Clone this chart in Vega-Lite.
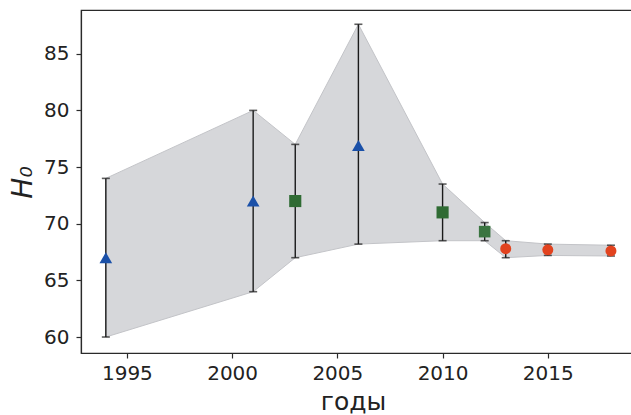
{
  "$schema": "https://vega.github.io/schema/vega-lite/v6.json",
  "width": 551,
  "height": 343,
  "autosize": {"type": "none"},
  "padding": {"left": 81, "top": 10, "right": 0, "bottom": 62},
  "background": "white",
  "config": {
    "view": {"stroke": "#2a2a2a", "strokeWidth": 1.2},
    "axis": {
      "grid": false,
      "domainColor": "#2a2a2a",
      "domainWidth": 1.2,
      "tickColor": "#2a2a2a",
      "tickSize": 5,
      "tickWidth": 1.2,
      "labelFont": "DejaVu Sans",
      "labelFontSize": 20,
      "labelColor": "#222222",
      "titleFont": "DejaVu Sans",
      "titleColor": "#222222",
      "titleFontWeight": "normal"
    }
  },
  "data": {
    "values": [
      {"year": 1994, "h": 67.0, "lo": 60.0, "hi": 74.0, "series": "A"},
      {"year": 2001, "h": 72.0, "lo": 64.0, "hi": 80.0, "series": "A"},
      {"year": 2003, "h": 72.0, "lo": 67.0, "hi": 77.0, "series": "B"},
      {"year": 2006, "h": 76.9, "lo": 68.2, "hi": 87.6, "series": "A"},
      {"year": 2010, "h": 71.0, "lo": 68.5, "hi": 73.5, "series": "B"},
      {"year": 2012, "h": 69.3, "lo": 68.5, "hi": 70.1, "series": "C"},
      {"year": 2013, "h": 67.8, "lo": 67.0, "hi": 68.5, "series": "D"},
      {"year": 2015, "h": 67.7, "lo": 67.2, "hi": 68.2, "series": "D"},
      {"year": 2018, "h": 67.6, "lo": 67.15, "hi": 68.1, "series": "D"}
    ]
  },
  "layer": [
    {
      "mark": {"type": "area", "fill": "#d6d7da", "stroke": "#c3c4c8", "strokeWidth": 1},
      "encoding": {
        "x": {
          "field": "year", "type": "quantitative",
          "scale": {"domain": [1992.82, 2019.0], "nice": false, "zero": false},
          "axis": {"values": [1995, 2000, 2005, 2010, 2015], "format": "d", "labelPadding": 5,
                   "title": "годы", "titleFontSize": 25, "titleX": 272, "titleY": 56, "titleBaseline": "alphabetic"}
        },
        "y": {
          "field": "hi", "type": "quantitative",
          "scale": {"domain": [58.59, 88.86], "nice": false, "zero": false},
          "axis": {"values": [60, 65, 70, 75, 80, 85], "labelPadding": 7,
                   "title": "H₀", "titleFontSize": 28, "titleFontStyle": "italic",
                   "titleX": -58, "titleY": 172, "titleAngle": -90, "titleAlign": "center", "titleBaseline": "middle"}
        },
        "y2": {"field": "lo"}
      }
    },
    {
      "mark": {"type": "rule", "color": "#1a1a1a", "strokeWidth": 1.4},
      "encoding": {
        "x": {"field": "year", "type": "quantitative"},
        "y": {"field": "lo", "type": "quantitative"},
        "y2": {"field": "hi"}
      }
    },
    {
      "mark": {"type": "tick", "orient": "horizontal", "color": "#1a1a1a", "size": 8, "thickness": 1.6},
      "encoding": {
        "x": {"field": "year", "type": "quantitative"},
        "y": {"field": "lo", "type": "quantitative"}
      }
    },
    {
      "mark": {"type": "tick", "orient": "horizontal", "color": "#1a1a1a", "size": 8, "thickness": 1.6},
      "encoding": {
        "x": {"field": "year", "type": "quantitative"},
        "y": {"field": "hi", "type": "quantitative"}
      }
    },
    {
      "mark": {"type": "point", "filled": true, "opacity": 1},
      "encoding": {
        "x": {"field": "year", "type": "quantitative"},
        "y": {"field": "h", "type": "quantitative"},
        "shape": {"field": "series", "type": "nominal", "legend": null,
                  "scale": {"domain": ["A", "B", "C", "D"], "range": ["triangle-up", "square", "square", "circle"]}},
        "color": {"field": "series", "type": "nominal", "legend": null,
                  "scale": {"domain": ["A", "B", "C", "D"], "range": ["#1a50a8", "#2f6b33", "#3a7540", "#e2431f"]}},
        "size": {"field": "series", "type": "nominal", "legend": null,
                 "scale": {"domain": ["A", "B", "C", "D"], "range": [160, 121, 45, 38]}}
      }
    }
  ]
}
